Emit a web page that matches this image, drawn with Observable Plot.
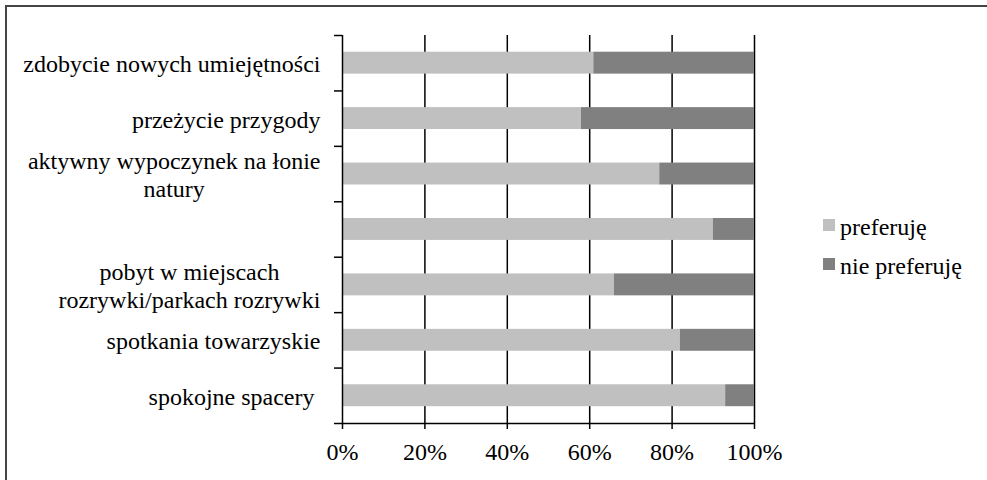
<!DOCTYPE html>
<html><head><meta charset="utf-8">
<script src="https://cdn.jsdelivr.net/npm/d3@7"></script>
<script src="https://cdn.jsdelivr.net/npm/@observablehq/plot@0.6"></script>
<style>
body{margin:0;background:#fff}
#chart{position:relative;width:987px;height:480px;overflow:hidden}
</style>
</head><body><div id="chart"></div>
<script>
const categories = [
  "zdobycie nowych umiejętności",
  "przeżycie przygody",
  "aktywny wypoczynek na łonie\nnatury",
  "",
  "pobyt w miejscach\nrozrywki/parkach rozrywki",
  "spotkania towarzyskie",
  "spokojne spacery "
];
const preferuje = [61, 58, 77, 90, 66, 82, 93];
const niePreferuje = [39, 42, 23, 10, 34, 18, 7];
const seriesNames = ["preferuję", "nie preferuję"];
const seriesColors = ["#c0c0c0", "#808080"];
const xTicks = [0, 20, 40, 60, 80, 100];

const rows = [];
categories.forEach((c, i) => {
  rows.push({cat: c, i, series: seriesNames[0], x1: 0, x2: preferuje[i]});
  rows.push({cat: c, i, series: seriesNames[1], x1: preferuje[i], x2: preferuje[i] + niePreferuje[i]});
});
const boundaries = d3.range(categories.length + 1);
const centers = categories.map((c, i) => i + 0.5);
const FONT = "'Liberation Serif', 'Times New Roman', serif";

const plot = Plot.plot({
  width: 987, height: 480,
  marginLeft: 342, marginRight: 233, marginTop: 35, marginBottom: 57,
  style: {fontFamily: FONT, fontSize: "24px", color: "#000", background: "#fff", overflow: "visible"},
  x: {domain: [0, 100]},
  y: {domain: [0, categories.length], reverse: true},
  color: {domain: seriesNames, range: seriesColors},
  marks: [
    Plot.ruleX(xTicks.slice(1), {stroke: "#000", strokeWidth: 1.5}),
    Plot.rectX(rows, {x1: "x1", x2: "x2", y1: d => d.i, y2: d => d.i + 1, fill: "series", insetTop: 16.7, insetBottom: 16.8}),
    Plot.ruleX([0], {stroke: "#000", strokeWidth: 1.5}),
    Plot.ruleY([categories.length], {stroke: "#000", strokeWidth: 1.5}),
    Plot.axisX({ticks: xTicks, tickFormat: d => d + "%", tickSize: 6, tickPadding: 13, label: null, strokeWidth: 1.5, strokeOpacity: 1}),
    Plot.axisY({ticks: boundaries, tickFormat: () => "", tickSize: 8, label: null, strokeWidth: 1.5, strokeOpacity: 1}),
    Plot.axisY({ticks: centers, tickFormat: v => categories[Math.floor(v)], tickSize: 0, tickPadding: 22, label: null, lineHeight: 1.17})
  ]
});
document.getElementById("chart").appendChild(plot);

const svg = d3.select(plot);
// center multi-line labels within their block
svg.selectAll('g[aria-label="y-axis tick label"] text').each(function () {
  this.style.whiteSpace = "pre";
  const tsp = this.querySelectorAll("tspan");
  if (tsp.length < 2) return;
  const w = this.getBBox().width;
  this.setAttribute("text-anchor", "middle");
  tsp.forEach(t => t.setAttribute("x", -w / 2));
});

// legend
const lg = svg.append("g").attr("font-size", 24).attr("font-family", FONT).attr("text-anchor", "start");
seriesNames.forEach((s, k) => {
  lg.append("rect").attr("x", 823).attr("y", 219 + k * 39).attr("width", 12).attr("height", 12).attr("fill", seriesColors[k]);
  lg.append("text").attr("x", 840).attr("y", 235 + k * 39).attr("fill", "#000").text(s);
});
// outer border
svg.append("rect").attr("x", 6).attr("y", 6).attr("width", 1000).attr("height", 500)
  .attr("fill", "none").attr("stroke", "#444").attr("stroke-width", 2);
</script>
</body></html>
